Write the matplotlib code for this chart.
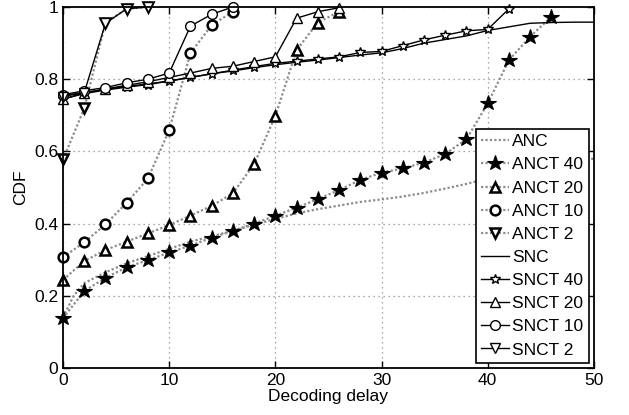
import matplotlib
matplotlib.use('Agg')
import matplotlib.pyplot as plt

plt.rcParams['font.family'] = ['Liberation Sans', 'DejaVu Sans']

# ANC (no coding tag) -- dotted reference curve
anc_x = [0, 1, 2, 4, 6, 8, 10, 12, 14, 16, 18, 20, 22, 24, 26, 28, 30, 32, 34, 36, 38, 40, 42, 44, 46, 48, 50]
anc_y = [0.14, 0.20, 0.235, 0.265, 0.29, 0.31, 0.33, 0.35, 0.365, 0.38, 0.397, 0.413, 0.428, 0.44, 0.45, 0.46, 0.467,
         0.475, 0.485, 0.497, 0.51, 0.525, 0.54, 0.55, 0.56, 0.572, 0.58]

ancT40_x = [0, 2, 4, 6, 8, 10, 12, 14, 16, 18, 20, 22, 24, 26, 28, 30, 32, 34, 36, 38, 40, 42, 44, 46]
ancT40_y = [0.138, 0.213, 0.25, 0.279, 0.299, 0.32, 0.339, 0.361, 0.38, 0.40, 0.422, 0.444, 0.468, 0.493, 0.521,
            0.541, 0.553, 0.569, 0.593, 0.634, 0.733, 0.853, 0.918, 0.973]

ancT20_x = [0, 2, 4, 6, 8, 10, 12, 14, 16, 18, 20, 22, 24, 26]
ancT20_y = [0.244, 0.296, 0.327, 0.35, 0.373, 0.396, 0.422, 0.449, 0.484, 0.565, 0.698, 0.881, 0.957, 0.987]

ancT10_x = [0, 2, 4, 6, 8, 10, 12, 14, 16]
ancT10_y = [0.307, 0.348, 0.398, 0.458, 0.525, 0.659, 0.872, 0.95, 0.987]

ancT2_x = [0, 2, 4, 6, 8]
ancT2_y = [0.578, 0.719, 0.957, 0.995, 1.0]

# SNC
snc_x = [0, 2, 4, 6, 8, 10, 12, 14, 16, 18, 20, 22, 24, 26, 28, 30, 32, 34, 36, 38, 40, 42, 44, 46, 48, 50]
snc_y = [0.755, 0.763, 0.772, 0.78, 0.787, 0.795, 0.805, 0.815, 0.823, 0.832, 0.84, 0.847, 0.853, 0.86, 0.867,
         0.873, 0.885, 0.9, 0.91, 0.92, 0.935, 0.945, 0.955, 0.957, 0.958, 0.958]

sncT40_x = [0, 2, 4, 6, 8, 10, 12, 14, 16, 18, 20, 22, 24, 26, 28, 30, 32, 34, 36, 38, 40, 42]
sncT40_y = [0.745, 0.76, 0.77, 0.778, 0.785, 0.795, 0.805, 0.815, 0.825, 0.835, 0.844, 0.85, 0.856, 0.862, 0.874,
            0.877, 0.893, 0.909, 0.922, 0.934, 0.938, 0.995]

sncT20_x = [0, 2, 4, 6, 8, 10, 12, 14, 16, 18, 20, 22, 24, 26]
sncT20_y = [0.745, 0.762, 0.773, 0.783, 0.793, 0.805, 0.817, 0.83, 0.836, 0.849, 0.862, 0.969, 0.987, 0.998]

sncT10_x = [0, 2, 4, 6, 8, 10, 12, 14, 16]
sncT10_y = [0.757, 0.768, 0.777, 0.79, 0.80, 0.817, 0.947, 0.98, 1.0]

sncT2_x = [0, 2, 4, 6, 8]
sncT2_y = [0.752, 0.763, 0.955, 0.995, 1.0]

dot = dict(linestyle=(0, (1, 1)), color='0.55', linewidth=1.6, markeredgecolor='k', clip_on=False)
sol = dict(linestyle='-', color='k', linewidth=1.0, markeredgecolor='k', markerfacecolor='w',
           markeredgewidth=1.0, clip_on=False)

fig = plt.figure(figsize=(6.29, 4.15), dpi=100)
ax = fig.add_axes([0.1002, 0.1133, 0.8440, 0.8698])

ax.plot(anc_x, anc_y, label='ANC', **dot)
ax.plot(ancT40_x, ancT40_y, marker='*', markersize=11.5, markerfacecolor='k', markeredgewidth=0.8,
        label='ANCT 40', **dot)
ax.plot(ancT20_x, ancT20_y, marker='^', markersize=7, markerfacecolor='w', markeredgewidth=1.8,
        label='ANCT 20', **dot)
ax.plot(ancT10_x, ancT10_y, marker='o', markersize=7, markerfacecolor='w', markeredgewidth=1.8,
        label='ANCT 10', **dot)
ax.plot(ancT2_x, ancT2_y, marker='v', markersize=7, markerfacecolor='w', markeredgewidth=1.8,
        label='ANCT 2', **dot)

ax.plot(snc_x, snc_y, label='SNC', **sol)
ax.plot(sncT40_x, sncT40_y, marker='*', markersize=7, label='SNCT 40', **sol)
ax.plot(sncT20_x, sncT20_y, marker='^', markersize=7, label='SNCT 20', **sol)
ax.plot(sncT10_x, sncT10_y, marker='o', markersize=7, label='SNCT 10', **sol)
ax.plot(sncT2_x, sncT2_y, marker='v', markersize=7, label='SNCT 2', **sol)

ax.set_xlim(0, 50)
ax.set_ylim(0, 1)
ax.set_xticks([0, 10, 20, 30, 40, 50])
ax.set_yticks([0, 0.2, 0.4, 0.6, 0.8, 1])
ax.set_yticklabels(['0', '0.2', '0.4', '0.6', '0.8', '1'])
ax.grid(True, linestyle=(0, (1, 3)), color='0.55', linewidth=0.9)
ax.tick_params(direction='in', top=True, right=True, length=5, labelsize=12.5, width=1)
for s in ax.spines.values():
    s.set_linewidth(1.3)
ax.set_xlabel('Decoding delay', fontsize=12.5, labelpad=1)
ax.set_ylabel('CDF', fontsize=12.5)

leg = ax.legend(loc='lower right', fontsize=12.5, numpoints=1, handlelength=1.6, handletextpad=0.2,
                labelspacing=0.46, borderpad=0.3, borderaxespad=0.3, fancybox=False, framealpha=1)
leg.get_frame().set_edgecolor('k')
leg.get_frame().set_linewidth(1.2)

fig.savefig('out.png', dpi=100)
